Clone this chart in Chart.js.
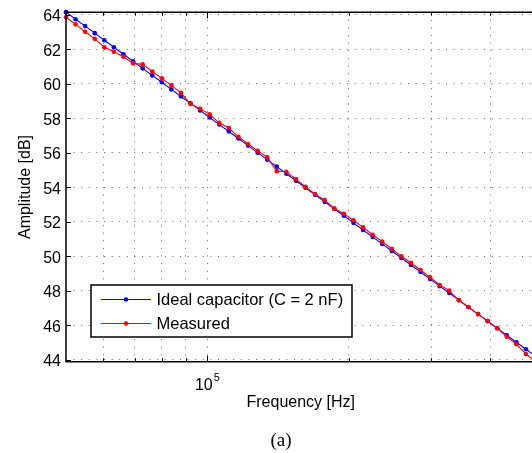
<!DOCTYPE html>
<html>
<head>
<meta charset="utf-8">
<script src="https://cdn.jsdelivr.net/npm/chart.js@4.4.1/dist/chart.umd.min.js"></script>
<style>
html,body{margin:0;padding:0;overflow:hidden;background:#fff;width:532px;height:453px}
#wrap{position:relative;width:540px;height:453px}
canvas{display:block}
</style>
</head>
<body>
<div id="wrap"><canvas id="c" width="540" height="453" style="width:540px;height:453px"></canvas></div>
<script>
// ---- data ----
const frequencies = [50000, 52406, 54927, 57570, 60340, 63243, 66286, 69476, 72818, 76322,
  79994, 83843, 87877, 92105, 96537, 101182, 106050, 111153, 116501, 122106,
  127981, 134140, 140594, 147358, 154449, 161880, 169669, 177833, 186389, 195357,
  204757, 214609, 224935, 235758, 247102, 258991, 271453, 284514, 298204, 312552,
  327591, 343353, 359874, 377190, 395338, 414360, 434297, 455194, 477096, 500000];
const idealDb = [64.16, 63.75, 63.35, 62.94, 62.53, 62.12, 61.72, 61.31, 60.90, 60.49,
  60.09, 59.68, 59.27, 58.87, 58.46, 58.05, 57.64, 57.24, 56.83, 56.42,
  56.01, 55.61, 55.20, 54.79, 54.38, 53.98, 53.57, 53.16, 52.76, 52.35,
  51.94, 51.53, 51.13, 50.72, 50.31, 49.90, 49.50, 49.09, 48.68, 48.27,
  47.87, 47.46, 47.05, 46.65, 46.24, 45.83, 45.42, 45.02, 44.61, 44.20];
const measuredDb = [63.86, 63.45, 63.02, 62.61, 62.12, 61.86, 61.57, 61.19, 61.13, 60.72,
  60.32, 59.91, 59.48, 58.83, 58.56, 58.23, 57.74, 57.44, 56.93, 56.51,
  56.12, 55.74, 54.94, 54.90, 54.48, 54.03, 53.61, 53.26, 52.78, 52.47,
  52.09, 51.68, 51.25, 50.85, 50.44, 50.00, 49.63, 49.21, 48.78, 48.34,
  48.01, 47.45, 47.06, 46.65, 46.25, 45.83, 45.34, 44.90, 44.34, 43.90];
const seriesLabels = ['Ideal capacitor (C = 2 nF)', 'Measured'];
const seriesColors = ['#0000ff', '#ff0000'];
const yTickValues = [44, 46, 48, 50, 52, 54, 56, 58, 60, 62, 64];
const xGridValues = [60000, 70000, 80000, 90000, 100000, 200000, 300000, 400000];
const xMajorValues = [100000];
const xTickLabels = [{value: 100000, base: '10', exp: '5'}];
const xTitle = 'Frequency [Hz]';
const yTitle = 'Amplitude [dB]';
const caption = '(a)';

const FONT = "'Liberation Sans', Arial, Helvetica, sans-serif";

const toPoints = (ys) => frequencies.map((f, i) => ({x: f, y: ys[i]}));

const decor = {
  id: 'decor',
  afterDraw(chart) {
    const ctx = chart.ctx;
    const a = chart.chartArea;
    const xs = chart.scales.x, ys = chart.scales.y;
    ctx.save();
    // axis box (top, left, bottom)
    ctx.strokeStyle = '#000';
    ctx.lineWidth = 1.5;
    ctx.beginPath();
    ctx.moveTo(a.right + 2, a.top); ctx.lineTo(a.left, a.top);
    ctx.lineTo(a.left, a.bottom); ctx.lineTo(a.right + 2, a.bottom);
    ctx.stroke();
    // inward ticks
    ctx.lineWidth = 1;
    ctx.beginPath();
    xGridValues.forEach(v => {
      const px = Math.round(xs.getPixelForValue(v)) + 0.5;
      const len = xMajorValues.includes(v) ? 6 : 3.5;
      ctx.moveTo(px, a.top); ctx.lineTo(px, a.top + len);
      ctx.moveTo(px, a.bottom); ctx.lineTo(px, a.bottom - len);
    });
    yTickValues.forEach(v => {
      const py = Math.round(ys.getPixelForValue(v)) + 0.5;
      ctx.moveTo(a.left, py); ctx.lineTo(a.left + 5, py);
    });
    ctx.stroke();
    // x tick labels with exponent
    ctx.fillStyle = '#000';
    ctx.textBaseline = 'alphabetic';
    ctx.textAlign = 'left';
    xTickLabels.forEach(t => {
      ctx.font = '16px ' + FONT;
      const wb = ctx.measureText(t.base).width;
      ctx.font = '11px ' + FONT;
      const we = ctx.measureText(t.exp).width;
      const cx = xs.getPixelForValue(t.value);
      const x0 = cx - (wb + we + 1) / 2;
      ctx.font = '16px ' + FONT;
      ctx.fillText(t.base, x0, a.bottom + 28.5);
      ctx.font = '11px ' + FONT;
      ctx.fillText(t.exp, x0 + wb + 1, a.bottom + 19);
    });
    // legend
    const lx = 91, ly = 285, lw = 261, lh = 52;
    ctx.fillStyle = '#fff';
    ctx.fillRect(lx, ly, lw, lh);
    ctx.strokeStyle = '#000';
    ctx.lineWidth = 1.5;
    ctx.strokeRect(lx, ly, lw, lh);
    const rowsY = [299.5, 323.5];
    seriesLabels.forEach((lab, i) => {
      const y = rowsY[i];
      ctx.strokeStyle = seriesColors[i];
      ctx.lineWidth = 1;
      ctx.beginPath(); ctx.moveTo(101, y); ctx.lineTo(151, y); ctx.stroke();
      ctx.fillStyle = seriesColors[i];
      ctx.beginPath(); ctx.arc(126, y, 2.2, 0, Math.PI * 2); ctx.fill();
      ctx.fillStyle = '#000';
      ctx.font = '16.5px ' + FONT;
      ctx.textBaseline = 'middle';
      ctx.textAlign = 'left';
      ctx.fillText(lab, 156.5, y + 0.5);
    });
    // caption
    ctx.font = "19px 'Liberation Serif', 'Times New Roman', serif";
    ctx.textAlign = 'center';
    ctx.textBaseline = 'middle';
    ctx.fillStyle = '#000';
    ctx.fillText(caption, 281, 441);
    ctx.restore();
  }
};

Chart.defaults.font.family = FONT;
Chart.defaults.color = '#000';

new Chart(document.getElementById('c'), {
  type: 'line',
  data: {
    datasets: [
      {label: seriesLabels[0], data: toPoints(idealDb), borderColor: seriesColors[0], backgroundColor: seriesColors[0],
       borderWidth: 1.1, pointRadius: 2.3, pointBorderWidth: 0, pointBackgroundColor: seriesColors[0], tension: 0, order: 1, clip: false},
      {label: seriesLabels[1], data: toPoints(measuredDb), borderColor: seriesColors[1], backgroundColor: seriesColors[1],
       borderWidth: 1.1, pointRadius: 2.3, pointBorderWidth: 0, pointBackgroundColor: seriesColors[1], tension: 0, order: 0, clip: false}
    ]
  },
  options: {
    responsive: false,
    devicePixelRatio: 1,
    animation: false,
    events: [],
    layout: {padding: {top: 12.3, right: 4.5, left: 0, bottom: 0}},
    plugins: {legend: {display: false}, tooltip: {enabled: false}, title: {display: false}},
    scales: {
      x: {
        type: 'logarithmic',
        min: 50000, max: 500000,
        afterBuildTicks: (s) => { s.ticks = xGridValues.map(v => ({value: v})); },
        afterFit: (s) => { s.height = 453 - 361.7; s.paddingLeft = 0; s.paddingRight = 0; },
        ticks: {display: false},
        grid: {color: 'rgba(0,0,0,0.6)', lineWidth: 1, drawTicks: false},
        border: {display: false, dash: [1, 6.6]},
        title: {display: true, text: xTitle, font: {size: 16}, padding: {top: 0, bottom: 41}}
      },
      y: {
        type: 'linear',
        min: 43.89, max: 64.15,
        afterBuildTicks: (s) => { s.ticks = yTickValues.map(v => ({value: v})); },
        afterFit: (s) => { s.width = 66; s.paddingTop = 0; s.paddingBottom = 0; },
        ticks: {font: {size: 16}, padding: 5, labelOffset: 2, color: '#000'},
        grid: {color: 'rgba(0,0,0,0.6)', lineWidth: 1, drawTicks: false},
        border: {display: false, dash: [1, 6.6]},
        title: {display: true, text: yTitle, font: {size: 16}, padding: {top: 16, bottom: 0}}
      }
    }
  },
  plugins: [decor]
});
</script>
</body>
</html>
